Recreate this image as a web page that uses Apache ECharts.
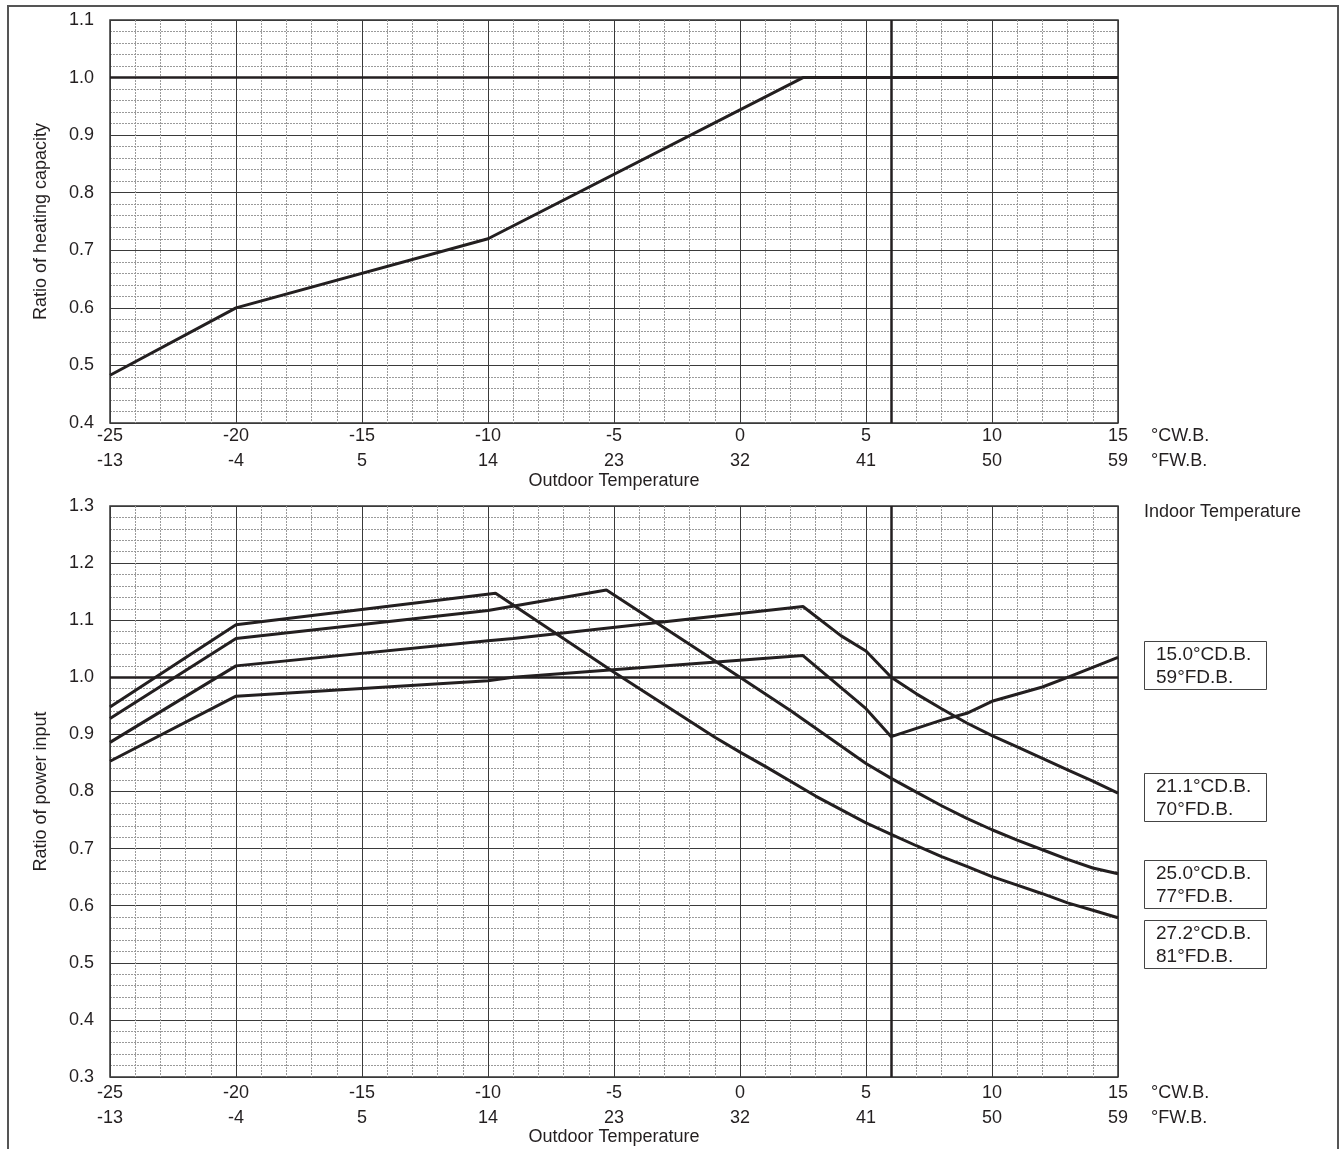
<!DOCTYPE html>
<html>
<head>
<meta charset="utf-8">
<script src="https://cdn.jsdelivr.net/npm/echarts@6/dist/echarts.min.js"></script>
<style>
html,body{margin:0;padding:0;background:#fff;}
#chart{width:1343px;height:1149px;}
</style>
</head>
<body>
<div id="chart"></div>
<script>
// ---- tick labels ----
const cTicks = [-25, -20, -15, -10, -5, 0, 5, 10, 15];
const fTicks = ['-13', '-4', '5', '14', '23', '32', '41', '50', '59'];

// ---- heating capacity ratio ----
const capX = [-25, -20, -10, 2.5, 15];
const capY = [0.483, 0.600, 0.720, 1.000, 1.000];

// ---- power input ratio, per indoor temperature ----
const p15X = [-25, -20, -10, -9, 2.5, 5, 6, 8, 9, 10, 12, 13, 15];
const p15Y = [0.853, 0.967, 0.994, 1.000, 1.038, 0.945, 0.896, 0.925, 0.937, 0.958, 0.983, 1.000, 1.035];

const p21X = [-25, -20, -10, -9, 2.5, 4, 5, 6, 7, 8, 9, 10, 11, 12, 13, 14, 15];
const p21Y = [0.886, 1.020, 1.064, 1.068, 1.124, 1.073, 1.046, 1.000, 0.971, 0.945, 0.920, 0.898, 0.878, 0.858, 0.838, 0.818, 0.797];

const p25X = [-25, -20, -10, -5.3, 0, 2, 5, 6, 7, 8, 9, 10, 11, 12, 13, 14, 15];
const p25Y = [0.928, 1.068, 1.117, 1.153, 1.000, 0.942, 0.849, 0.823, 0.799, 0.775, 0.753, 0.733, 0.715, 0.698, 0.681, 0.666, 0.656];

const p27X = [-25, -20, -9.7, -5, -1, 0, 1, 3, 5, 6, 7, 8, 9, 10, 11, 12, 13, 14, 15];
const p27Y = [0.948, 1.092, 1.147, 1.009, 0.895, 0.869, 0.844, 0.792, 0.745, 0.725, 0.705, 0.686, 0.669, 0.651, 0.636, 0.621, 0.605, 0.592, 0.579];

const legendC = ['15.0°CD.B.', '21.1°CD.B.', '25.0°CD.B.', '27.2°CD.B.'];
const legendF = ['59°FD.B.', '70°FD.B.', '77°FD.B.', '81°FD.B.'];

const refC = 6;      // vertical reference line (°C W.B.)
const refRatio = 1.0; // horizontal reference line

const FONT = 'Liberation Sans, Arial, sans-serif';
const INK = '#231f20';

function pairs(xs, ys) { return xs.map((x, i) => [x, ys[i]]); }

function xAxisPair(gi, margin, nameGap) {
  const base = {
    gridIndex: gi, type: 'value', min: -25, max: 15, interval: 5,
    axisLine: {show: false}, axisTick: {show: false}
  };
  return [
    Object.assign({}, base, {
      position: 'bottom',
      axisLabel: {margin: margin, fontSize: 18, fontFamily: FONT, color: INK,
        formatter: v => { const i = cTicks.indexOf(Math.round(v)); return i >= 0 ? String(cTicks[i]) : ''; }},
      splitLine: {show: true, lineStyle: {color: '#3a3a3a', width: 1}},
      minorTick: {show: false, splitNumber: 5},
      minorSplitLine: {show: true, lineStyle: {color: '#9a9a9a', width: 1, type: [2, 1]}}
    }),
    Object.assign({}, base, {
      position: 'bottom', offset: 25,
      axisLabel: {margin: margin, fontSize: 18, fontFamily: FONT, color: INK,
        formatter: v => { const i = cTicks.indexOf(Math.round(v)); return i >= 0 ? fTicks[i] : ''; }},
      splitLine: {show: false},
      name: 'Outdoor Temperature', nameLocation: 'middle', nameGap: nameGap,
      nameTextStyle: {fontSize: 18, fontFamily: FONT, color: INK}
    })
  ];
}

function yAxis(gi, min, max, name) {
  return {
    gridIndex: gi, type: 'value', min: min, max: max, interval: 0.1,
    axisLine: {show: false}, axisTick: {show: false},
    axisLabel: {margin: 16, fontSize: 18, fontFamily: FONT, color: INK, formatter: v => v.toFixed(1)},
    splitLine: {show: true, lineStyle: {color: '#3a3a3a', width: 1}},
    minorTick: {show: false, splitNumber: 5},
    minorSplitLine: {show: true, lineStyle: {color: '#9a9a9a', width: 1, type: [2, 1]}},
    name: name, nameLocation: 'middle', nameGap: 60, nameRotate: 90,
    nameTextStyle: {fontSize: 18, fontFamily: FONT, color: INK}
  };
}

const refLines = {
  silent: true, symbol: 'none', label: {show: false},
  lineStyle: {color: INK, width: 2.5, type: 'solid'},
  data: [{xAxis: refC}, {yAxis: refRatio}]
};

function lineSeries(name, xi, yi, data, withRef) {
  const s = {
    name: name, type: 'line', xAxisIndex: xi, yAxisIndex: yi, data: data,
    symbol: 'none', smooth: false, animation: false,
    lineStyle: {color: INK, width: 3}, z: 5
  };
  if (withRef) s.markLine = refLines;
  return s;
}

const graphics = [
  {type: 'rect', shape: {x: 8, y: 6, width: 1330, height: 1200}, style: {fill: 'none', stroke: '#555', lineWidth: 2}, silent: true},
  {type: 'text', x: 1151, y: 436, style: {text: '°CW.B.', font: '18px ' + FONT, fill: INK, textVerticalAlign: 'middle'}},
  {type: 'text', x: 1151, y: 461, style: {text: '°FW.B.', font: '18px ' + FONT, fill: INK, textVerticalAlign: 'middle'}},
  {type: 'text', x: 1151, y: 1093, style: {text: '°CW.B.', font: '18px ' + FONT, fill: INK, textVerticalAlign: 'middle'}},
  {type: 'text', x: 1151, y: 1118, style: {text: '°FW.B.', font: '18px ' + FONT, fill: INK, textVerticalAlign: 'middle'}},
  {type: 'text', x: 1144, y: 512, style: {text: 'Indoor Temperature', font: '18px ' + FONT, fill: INK, textVerticalAlign: 'middle'}}
];
const boxTops = [641, 773, 860, 920];
legendC.forEach((c, i) => {
  graphics.push({type: 'rect', shape: {x: 1144.5, y: boxTops[i] + 0.5, width: 122, height: 48},
    style: {fill: '#fff', stroke: '#444', lineWidth: 1}});
  graphics.push({type: 'text', x: 1156, y: boxTops[i] + 14, style: {text: c, font: '19px ' + FONT, fill: INK, textVerticalAlign: 'middle'}});
  graphics.push({type: 'text', x: 1156, y: boxTops[i] + 37, style: {text: legendF[i], font: '19px ' + FONT, fill: INK, textVerticalAlign: 'middle'}});
});

const chart = echarts.init(document.getElementById('chart'), null, {renderer: 'canvas'});
chart.setOption({
  animation: false,
  backgroundColor: '#fff',
  textStyle: {fontFamily: FONT},
  grid: [
    {left: 110, top: 20, width: 1008, height: 403, show: true, borderColor: '#333', borderWidth: 1.5, backgroundColor: 'transparent'},
    {left: 110, top: 506, width: 1008, height: 571, show: true, borderColor: '#333', borderWidth: 1.5, backgroundColor: 'transparent'}
  ],
  xAxis: [].concat(xAxisPair(0, 4, 24), xAxisPair(1, 7, 24)),
  yAxis: [
    yAxis(0, 0.4, 1.1, 'Ratio of heating capacity'),
    yAxis(1, 0.3, 1.3, 'Ratio of power input')
  ],
  series: [
    lineSeries('Heating capacity', 0, 0, pairs(capX, capY), true),
    lineSeries(legendC[0], 2, 1, pairs(p15X, p15Y), true),
    lineSeries(legendC[1], 2, 1, pairs(p21X, p21Y), false),
    lineSeries(legendC[2], 2, 1, pairs(p25X, p25Y), false),
    lineSeries(legendC[3], 2, 1, pairs(p27X, p27Y), false)
  ],
  graphic: graphics
});
</script>
</body>
</html>
